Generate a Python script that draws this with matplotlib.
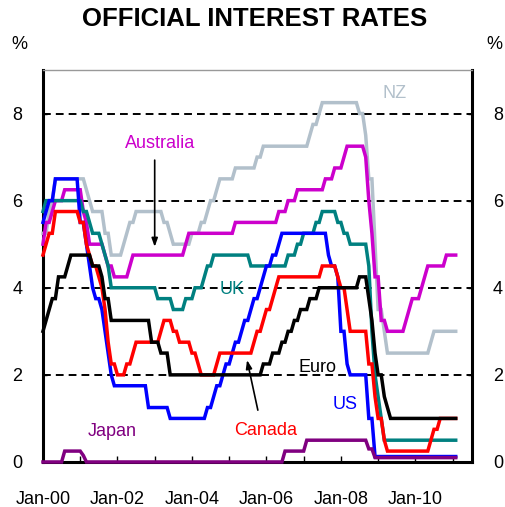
import matplotlib.pyplot as plt
import pandas as pd

plt.rcParams["font.family"] = ["Liberation Sans", "DejaVu Sans"]

# Official policy rates, per cent: month of change -> new rate
nz_months = ["2000-01", "2000-03", "2000-04", "2000-05", "2001-03", "2001-04", "2001-05",
             "2001-09", "2001-11", "2002-03", "2002-04", "2002-05", "2002-07", "2003-04",
             "2003-06", "2003-07", "2004-01", "2004-04", "2004-06", "2004-07", "2004-09",
             "2004-10", "2005-03", "2005-10", "2005-12", "2007-03", "2007-04", "2007-06",
             "2007-07", "2008-07", "2008-09", "2008-10", "2008-12", "2009-01", "2009-03",
             "2009-04", "2010-06", "2010-07"]
nz_rates = [5.25, 5.75, 6.00, 6.50, 6.25, 6.00, 5.75, 5.25, 4.75, 5.00, 5.25, 5.50, 5.75,
            5.50, 5.25, 5.00, 5.25, 5.50, 5.75, 6.00, 6.25, 6.50, 6.75, 7.00, 7.25, 7.50,
            7.75, 8.00, 8.25, 8.00, 7.50, 6.50, 5.00, 3.50, 3.00, 2.50, 2.75, 3.00]

au_months = ["2000-01", "2000-02", "2000-04", "2000-05", "2000-08", "2001-02", "2001-03",
             "2001-04", "2001-09", "2001-10", "2001-12", "2002-05", "2002-06", "2003-11",
             "2003-12", "2005-03", "2006-05", "2006-08", "2006-11", "2007-08", "2007-11",
             "2008-02", "2008-03", "2008-09", "2008-10", "2008-11", "2008-12", "2009-02",
             "2009-04", "2009-10", "2009-11", "2009-12", "2010-03", "2010-04", "2010-05",
             "2010-11"]
au_rates = [5.00, 5.50, 5.75, 6.00, 6.25, 5.75, 5.50, 5.00, 4.75, 4.50, 4.25, 4.50, 4.75,
            5.00, 5.25, 5.50, 5.75, 6.00, 6.25, 6.50, 6.75, 7.00, 7.25, 7.00, 6.00, 5.25,
            4.25, 3.25, 3.00, 3.25, 3.50, 3.75, 4.00, 4.25, 4.50, 4.75]

uk_months = ["2000-01", "2000-02", "2001-02", "2001-04", "2001-05", "2001-08", "2001-09",
             "2001-10", "2001-11", "2003-02", "2003-07", "2003-11", "2004-02", "2004-05",
             "2004-06", "2004-08", "2005-08", "2006-08", "2006-11", "2007-01", "2007-05",
             "2007-07", "2007-12", "2008-02", "2008-04", "2008-10", "2008-11", "2008-12",
             "2009-01", "2009-02", "2009-03"]
uk_rates = [5.75, 6.00, 5.75, 5.50, 5.25, 5.00, 4.75, 4.50, 4.00, 3.75, 3.50, 3.75, 4.00,
            4.25, 4.50, 4.75, 4.50, 4.75, 5.00, 5.25, 5.50, 5.75, 5.50, 5.25, 5.00, 4.50,
            3.00, 2.00, 1.50, 1.00, 0.50]

us_months = ["2000-01", "2000-02", "2000-03", "2000-05", "2001-01", "2001-03", "2001-04",
             "2001-05", "2001-06", "2001-08", "2001-09", "2001-10", "2001-11", "2001-12",
             "2002-11", "2003-06", "2004-06", "2004-08", "2004-09", "2004-11", "2004-12",
             "2005-02", "2005-03", "2005-05", "2005-06", "2005-08", "2005-09", "2005-11",
             "2005-12", "2006-01", "2006-03", "2006-05", "2006-06", "2007-09", "2007-10",
             "2007-12", "2008-01", "2008-03", "2008-04", "2008-10", "2008-12"]
us_rates = [5.50, 5.75, 6.00, 6.50, 5.50, 5.00, 4.50, 4.00, 3.75, 3.50, 3.00, 2.50, 2.00,
            1.75, 1.25, 1.00, 1.25, 1.50, 1.75, 2.00, 2.25, 2.50, 2.75, 3.00, 3.25, 3.50,
            3.75, 4.00, 4.25, 4.50, 4.75, 5.00, 5.25, 4.75, 4.50, 4.25, 3.00, 2.25, 2.00,
            1.00, 0.125]

ca_months = ["2000-01", "2000-02", "2000-03", "2000-05", "2001-01", "2001-03", "2001-04",
             "2001-05", "2001-07", "2001-08", "2001-09", "2001-10", "2001-11", "2002-01",
             "2002-04", "2002-06", "2002-07", "2003-03", "2003-04", "2003-07", "2003-09",
             "2004-01", "2004-03", "2004-04", "2004-09", "2004-10", "2005-09", "2005-10",
             "2005-12", "2006-01", "2006-03", "2006-04", "2006-05", "2007-07", "2007-12",
             "2008-01", "2008-03", "2008-04", "2008-10", "2008-12", "2009-01", "2009-03",
             "2009-04", "2010-06", "2010-07", "2010-09"]
ca_rates = [4.75, 5.00, 5.25, 5.75, 5.50, 5.00, 4.75, 4.50, 4.25, 4.00, 3.50, 2.75, 2.25,
            2.00, 2.25, 2.50, 2.75, 3.00, 3.25, 3.00, 2.75, 2.50, 2.25, 2.00, 2.25, 2.50,
            2.75, 3.00, 3.25, 3.50, 3.75, 4.00, 4.25, 4.50, 4.25, 4.00, 3.50, 3.00, 2.25,
            1.50, 1.00, 0.50, 0.25, 0.50, 0.75, 1.00]

eu_months = ["2000-01", "2000-02", "2000-03", "2000-04", "2000-06", "2000-09", "2000-10",
             "2001-05", "2001-08", "2001-09", "2001-11", "2002-12", "2003-03", "2003-06",
             "2005-12", "2006-03", "2006-06", "2006-08", "2006-10", "2006-12", "2007-03",
             "2007-06", "2008-07", "2008-10", "2008-11", "2008-12", "2009-01", "2009-03",
             "2009-04", "2009-05"]
eu_rates = [3.00, 3.25, 3.50, 3.75, 4.25, 4.50, 4.75, 4.50, 4.25, 3.75, 3.25, 2.75, 2.50,
            2.00, 2.25, 2.50, 2.75, 3.00, 3.25, 3.50, 3.75, 4.00, 4.25, 3.75, 3.25, 2.50,
            2.00, 1.50, 1.25, 1.00]

jp_months = ["2000-01", "2000-08", "2001-02", "2001-03", "2006-07", "2007-02", "2008-10",
             "2008-12"]
jp_rates = [0.00, 0.25, 0.15, 0.00, 0.25, 0.50, 0.30, 0.10]

first_month, last_month = "2000-01", "2011-02"


def monthly(months, rates):
    idx = pd.period_range(first_month, last_month, freq="M")
    s = pd.Series(rates, index=pd.PeriodIndex(months, freq="M")).reindex(idx).ffill()
    x = idx.year + (idx.month - 1) / 12.0
    return x, s.values


series = [
    (nz_months, nz_rates, "#B2C0CB"),
    (au_months, au_rates, "#CC00CC"),
    (uk_months, uk_rates, "#008080"),
    (us_months, us_rates, "#0000FF"),
    (ca_months, ca_rates, "#FF0000"),
    (eu_months, eu_rates, "#000000"),
    (jp_months, jp_rates, "#800080"),
]

fig = plt.figure(figsize=(5.05, 5.07), dpi=100)
ax = fig.add_axes([0.0851, 0.0888, 0.8495, 0.7732])

for y in [2, 4, 6, 8]:
    ax.axhline(y, color="black", lw=1.4, dashes=(4, 2.6), zorder=1)

for months, rates, col in series:
    x, y = monthly(months, rates)
    ax.plot(x, y, color=col, lw=2.5, solid_joinstyle="miter", clip_on=False, zorder=3)

ax.set_xlim(2000.0, 2011.52)
ax.set_ylim(0, 9)

years = list(range(2000, 2012))
ax.set_xticks(years)
ax.set_xticklabels([f"Jan-{y % 100:02d}" if y % 2 == 0 else "" for y in years])
ax.set_yticks([0, 2, 4, 6, 8])
ax.tick_params(axis="x", direction="in", length=4, width=1, pad=21, labelsize=13)
ax.tick_params(axis="y", direction="in", length=3, width=1, pad=15, labelsize=13,
               left=True, right=True, labelleft=True, labelright=True)

for side in ["left", "right", "bottom"]:
    ax.spines[side].set_linewidth(2.2)
    ax.spines[side].set_color("black")
ax.spines["top"].set_linewidth(1.0)
ax.spines["top"].set_color("#999999")

lab = dict(fontsize=13, ha="center", va="center", zorder=5)
ax.text(2009.45, 8.45, "NZ", color="#B2C0CB", **lab)
ax.text(2003.14, 7.32, "Australia", color="#CC00CC", **lab)
ax.text(2005.07, 3.95, "UK", color="#008080", **lab)
ax.text(2007.38, 2.18, "Euro", color="black", **lab)
ax.text(2008.11, 1.31, "US", color="#0000FF", **lab)
ax.text(2005.99, 0.73, "Canada", color="#FF0000", **lab)
ax.text(2001.85, 0.69, "Japan", color="#800080", **lab)

arrow = dict(arrowstyle="-|>,head_length=0.5,head_width=0.18", color="black", lw=1.2,
             shrinkA=0, shrinkB=0)
ax.annotate("", xy=(2003.0, 4.94), xytext=(2003.0, 6.93), arrowprops=arrow, zorder=5)
ax.annotate("", xy=(2005.48, 2.34), xytext=(2005.77, 1.19), arrowprops=arrow, zorder=5)

fig.text(0.505, 0.9635, "OFFICIAL INTEREST RATES", fontsize=18.5, fontweight="bold",
         ha="center", va="center")
fig.text(0.038, 0.912, "%", fontsize=13, ha="center", va="center")
fig.text(0.978, 0.912, "%", fontsize=13, ha="center", va="center")

fig.savefig("out.png", dpi=100)
